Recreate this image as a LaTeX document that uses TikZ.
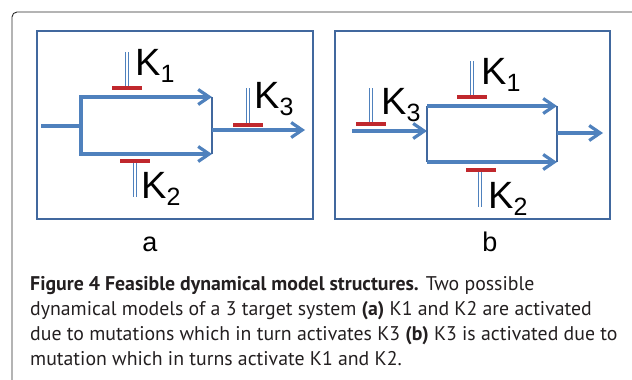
\documentclass[tikz,border=0pt]{standalone}
\usepackage{fontspec}
\setmainfont{Liberation Sans}
\newfontfamily\capfont{PT Sans}
\usetikzlibrary{arrows.meta}
\definecolor{arrowblue}{HTML}{4F81BD}
\definecolor{boxblue}{HTML}{41689E}
\definecolor{inhred}{HTML}{C0282D}
\definecolor{framegray}{HTML}{2B2B2B}
\definecolor{captext}{HTML}{231F20}
\tikzset{
  flow/.style={draw=arrowblue, line width=3.2pt},
  flowarrow/.style={flow, -{Straight Barb[length=11pt,width=15pt]}},
  panelbox/.style={draw=boxblue, line width=1.4pt},
  outerframe/.style={draw=framegray, line width=0.9pt, rounded corners=5pt},
  inhbar/.style={draw=inhred, line width=4pt},
  inhstem/.style={draw=arrowblue, line width=0.9pt, double=white, double distance=1.6pt},
  klabel/.style={inner sep=0pt, anchor=base west, font=\fontsize{38}{38}\selectfont},
  panellabel/.style={inner sep=0pt, anchor=base, font=\fontsize{27}{27}\selectfont},
  capline/.style={inner sep=0pt, anchor=base west, text=captext, font=\capfont\fontsize{19.8}{19.8}\selectfont}
}
\newcommand{\ksub}[1]{K\raisebox{-7pt}{\fontsize{25}{25}\selectfont #1}}
\begin{document}
\begin{tikzpicture}[x=1pt, y=-1pt]
\useasboundingbox (0,0) rectangle (632,380);
% outer frame
\coordinate (fbl) at (12,381);
\coordinate (ftl) at (12,12);
\coordinate (ftr) at (633,12);
\draw[outerframe] (fbl) -- (ftl) -- (ftr);

% ---------- panel a ----------
\coordinate (pa1) at (37,31);
\coordinate (pa2) at (313,219);
\draw[panelbox] (pa1) rectangle (pa2);
\coordinate (ain) at (41,126);
\coordinate (ajoin) at (81,126);
\coordinate (alt) at (81,97);
\coordinate (alb) at (81,154);
\coordinate (art) at (212,97);
\coordinate (arb) at (212,154);
\coordinate (aout0) at (212,130);
\coordinate (aout) at (305,130);
\draw[flow] (ain) -- (ajoin);
\draw[flow, line cap=rect] (alt) -- (alb);
\draw[flowarrow] (alt) -- (art);
\draw[flowarrow] (alb) -- (arb);
\draw[panelbox] (art) -- (arb);
\draw[flowarrow] (aout0) -- (aout);
% K1 (a)
\coordinate (ak1t) at (127,52);
\coordinate (ak1b) at (127,88);
\coordinate (ak1l) at (112,88);
\coordinate (ak1r) at (142,88);
\draw[inhstem] (ak1t) -- (ak1b);
\draw[inhbar] (ak1l) -- (ak1r);
\node[klabel] (ak1) at (135,75) {\ksub{1}};
% K2 (a)
\coordinate (ak2t) at (135,162);
\coordinate (ak2b) at (135,197);
\coordinate (ak2l) at (120,161);
\coordinate (ak2r) at (150,161);
\draw[inhstem] (ak2t) -- (ak2b);
\draw[inhbar] (ak2l) -- (ak2r);
\node[klabel] (ak2) at (141,198) {\ksub{2}};
% K3 (a)
\coordinate (ak3t) at (248,88);
\coordinate (ak3b) at (248,125);
\coordinate (ak3l) at (233,125);
\coordinate (ak3r) at (263,125);
\draw[inhstem] (ak3t) -- (ak3b);
\draw[inhbar] (ak3l) -- (ak3r);
\node[klabel] (ak3) at (254,108) {\ksub{3}};
\node[panellabel] (la) at (150,251) {a};

% ---------- panel b ----------
\coordinate (pb1) at (335,31);
\coordinate (pb2) at (610,219);
\draw[panelbox] (pb1) rectangle (pb2);
\coordinate (bin) at (352,131);
\coordinate (bjoin) at (427,131);
\coordinate (blt) at (427,106);
\coordinate (blb) at (427,162);
\coordinate (brt) at (557,106);
\coordinate (brb) at (557,162);
\coordinate (bout0) at (557,133);
\coordinate (bout) at (603,133);
\draw[flowarrow] (bin) -- (bjoin);
\draw[panelbox] (blt) -- (blb);
\draw[flowarrow] (blt) -- (brt);
\draw[flowarrow] (blb) -- (brb);
\draw[panelbox] (brt) -- (brb);
\draw[flowarrow] (bout0) -- (bout);
% K3 (b)
\coordinate (bk3t) at (371,88);
\coordinate (bk3b) at (371,124);
\coordinate (bk3l) at (356,124);
\coordinate (bk3r) at (386,124);
\draw[inhstem] (bk3t) -- (bk3b);
\draw[inhbar] (bk3l) -- (bk3r);
\node[klabel] (bk3) at (381,114) {\ksub{3}};
% K1 (b)
\coordinate (bk1t) at (472,61);
\coordinate (bk1b) at (472,97);
\coordinate (bk1l) at (457,97);
\coordinate (bk1r) at (487,97);
\draw[inhstem] (bk1t) -- (bk1b);
\draw[inhbar] (bk1l) -- (bk1r);
\node[klabel] (bk1) at (481,84) {\ksub{1}};
% K2 (b)
\coordinate (bk2t) at (480,171);
\coordinate (bk2b) at (480,207);
\coordinate (bk2l) at (466,170);
\coordinate (bk2r) at (496,170);
\draw[inhstem] (bk2t) -- (bk2b);
\draw[inhbar] (bk2l) -- (bk2r);
\node[klabel] (bk2) at (488,208) {\ksub{2}};
\node[panellabel] (lb) at (490,251) {b};

% ---------- caption ----------
\node[capline] (c1) at (30,290) {\textbf{Figure 4 Feasible dynamical model structures.} Two possible};
\node[capline] (c2) at (30,315) {dynamical models of a 3 target system \textbf{(a)} K1 and K2 are activated};
\node[capline] (c3) at (30,340) {due to mutations which in turn activates K3 \textbf{(b)} K3 is activated due to};
\node[capline] (c4) at (30,365) {mutation which in turns activate K1 and K2.};
\end{tikzpicture}
\end{document}
